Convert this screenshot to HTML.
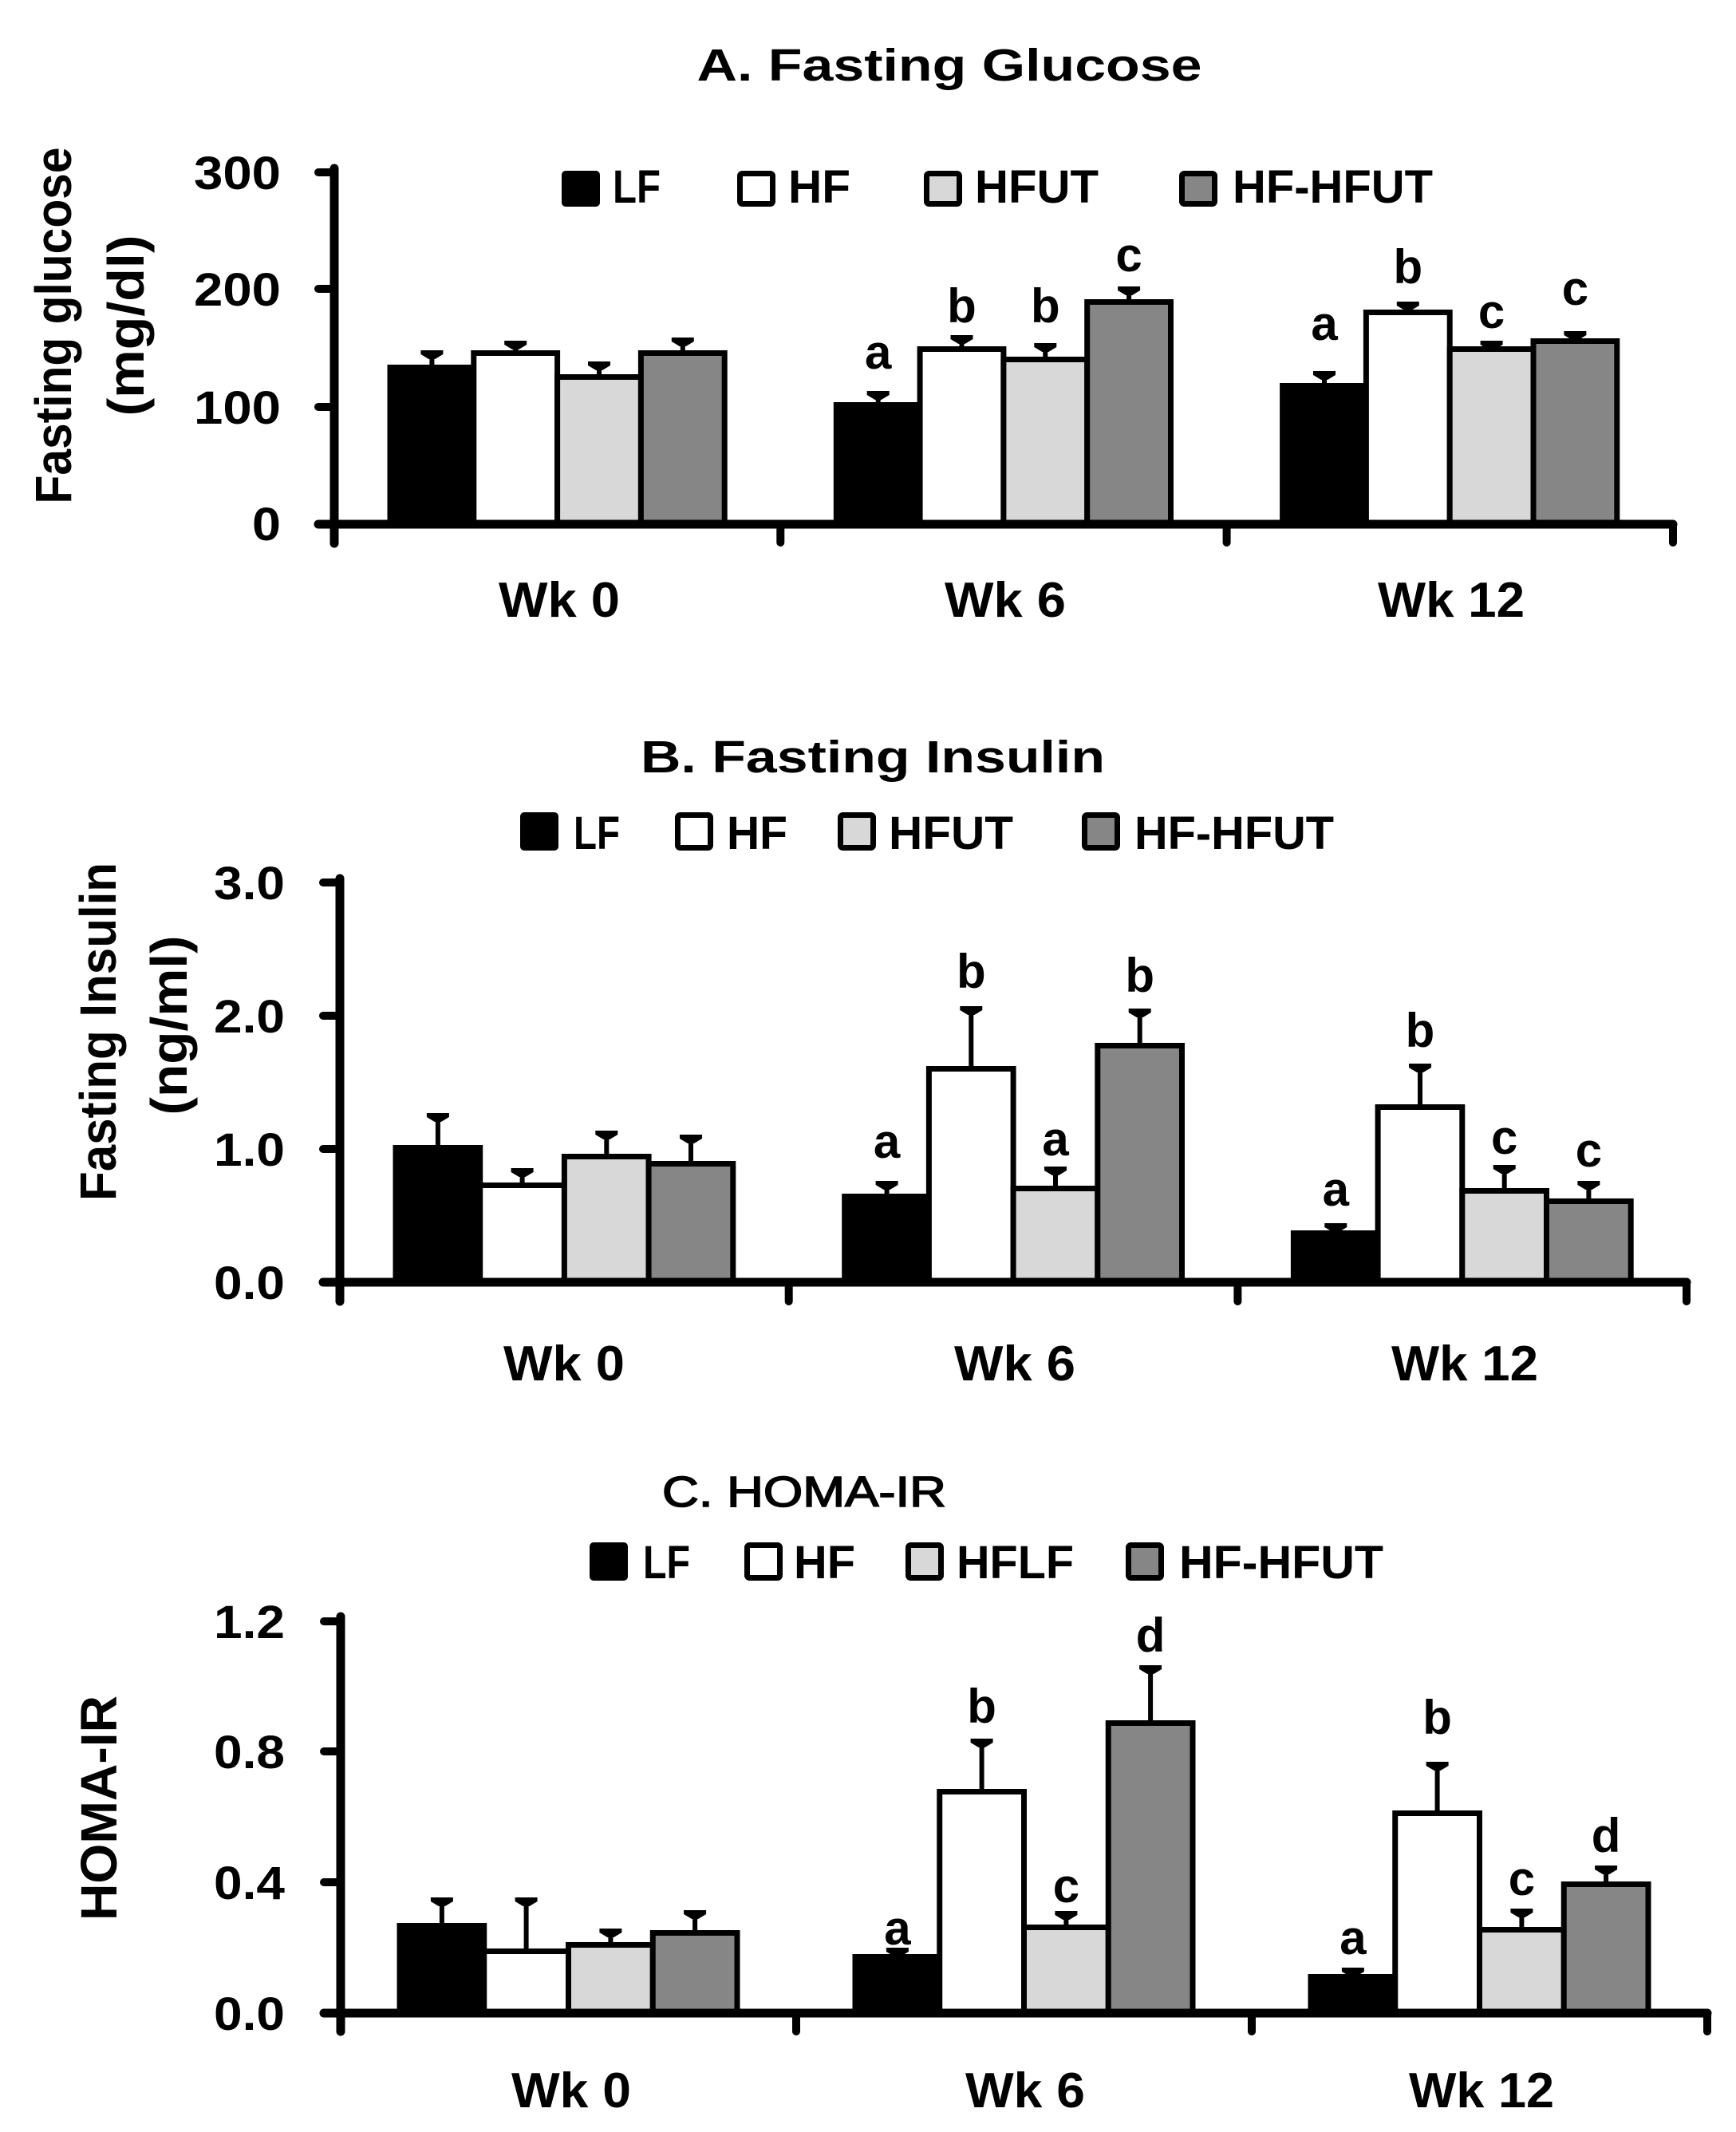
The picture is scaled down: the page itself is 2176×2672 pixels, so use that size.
<!DOCTYPE html>
<html><head><meta charset="utf-8"><style>
html,body{margin:0;padding:0;background:#fff;}
svg{display:block;}
text{font-family:"Liberation Sans",Arial,sans-serif;font-weight:bold;fill:#000;}
.lf{fill:#000;stroke:#000;stroke-width:7;}
.hf{fill:#fff;stroke:#000;stroke-width:7;}
.hu{fill:#d8d8d8;stroke:#000;stroke-width:7;}
.hh{fill:#868686;stroke:#000;stroke-width:7;}
.ax{stroke:#000;stroke-width:11;stroke-linecap:round;fill:none;}
.tk{stroke:#000;stroke-width:10;stroke-linecap:round;fill:none;}
.eb{stroke:#000;stroke-width:6;}
</style></head><body>
<svg width="2176" height="2672" viewBox="0 0 2176 2672" xmlns="http://www.w3.org/2000/svg">
<defs>
<path id="cap" d="M-14,0 H14 V5 L4,11 H-4 L-14,5 Z" fill="#000"/>
</defs>
<rect width="2176" height="2672" fill="#fff"/>

<!-- ============ PANEL A ============ -->
<text x="1190" y="101" font-size="57" text-anchor="middle" textLength="633" lengthAdjust="spacingAndGlyphs">A. Fasting Glucose</text>
<rect x="704" y="214" width="48" height="45" rx="5" fill="#000"/>
<text x="768" y="254" font-size="58" textLength="60" lengthAdjust="spacingAndGlyphs">LF</text>
<rect x="927.5" y="217.5" width="41" height="38" rx="3" class="hf"/>
<text x="988" y="254" font-size="58" textLength="78" lengthAdjust="spacingAndGlyphs">HF</text>
<rect x="1161.5" y="217.5" width="41" height="38" rx="3" class="hu"/>
<text x="1222" y="254" font-size="58" textLength="155" lengthAdjust="spacingAndGlyphs">HFUT</text>
<rect x="1481.5" y="217.5" width="41" height="38" rx="3" class="hh"/>
<text x="1545" y="254" font-size="58" textLength="251" lengthAdjust="spacingAndGlyphs">HF-HFUT</text>
<text transform="translate(89,408) rotate(-90)" font-size="64" text-anchor="middle" textLength="447" lengthAdjust="spacingAndGlyphs">Fasting glucose</text>
<text transform="translate(180,408) rotate(-90)" font-size="64" text-anchor="middle" textLength="227" lengthAdjust="spacingAndGlyphs">(mg/dl)</text>
<text x="352" y="237" font-size="58" text-anchor="end" textLength="109" lengthAdjust="spacingAndGlyphs">300</text>
<text x="352" y="383" font-size="58" text-anchor="end" textLength="109" lengthAdjust="spacingAndGlyphs">200</text>
<text x="352" y="531" font-size="58" text-anchor="end" textLength="109" lengthAdjust="spacingAndGlyphs">100</text>
<text x="352" y="677" font-size="58" text-anchor="end" textLength="36" lengthAdjust="spacingAndGlyphs">0</text>
<rect x="489" y="460.5" width="104.8" height="196.5" class="lf"/>
<rect x="593.8" y="442.5" width="104.8" height="214.5" class="hf"/>
<rect x="698.6" y="472.5" width="104.8" height="184.5" class="hu"/>
<rect x="803.4" y="442.5" width="104.8" height="214.5" class="hh"/>
<rect x="1048.3" y="507.5" width="104.8" height="149.5" class="lf"/>
<rect x="1153.1" y="437.5" width="104.8" height="219.5" class="hf"/>
<rect x="1257.9" y="450.5" width="104.8" height="206.5" class="hu"/>
<rect x="1362.7" y="378.5" width="104.8" height="278.5" class="hh"/>
<rect x="1607.6" y="483.5" width="104.8" height="173.5" class="lf"/>
<rect x="1712.4" y="391.5" width="104.8" height="265.5" class="hf"/>
<rect x="1817.2" y="437.5" width="104.8" height="219.5" class="hu"/>
<rect x="1922" y="427.5" width="104.8" height="229.5" class="hh"/>
<g class="eb">
<line x1="541.4" y1="439" x2="541.4" y2="457"/><line x1="646.2" y1="427" x2="646.2" y2="439"/>
<line x1="751" y1="453" x2="751" y2="469"/><line x1="855.8" y1="423" x2="855.8" y2="439"/>
<line x1="1100.7" y1="490" x2="1100.7" y2="504"/><line x1="1205.5" y1="420" x2="1205.5" y2="434"/>
<line x1="1310.3" y1="430" x2="1310.3" y2="447"/><line x1="1415.1" y1="359" x2="1415.1" y2="375"/>
<line x1="1660" y1="465" x2="1660" y2="480"/><line x1="1764.8" y1="378" x2="1764.8" y2="388"/>
<line x1="1869.6" y1="427" x2="1869.6" y2="434"/><line x1="1974.4" y1="415" x2="1974.4" y2="424"/>
</g>
<use href="#cap" x="541.4" y="439"/><use href="#cap" x="646.2" y="427"/><use href="#cap" x="751" y="453"/><use href="#cap" x="855.8" y="423"/>
<use href="#cap" x="1100.7" y="490"/><use href="#cap" x="1205.5" y="420"/><use href="#cap" x="1310.3" y="430"/><use href="#cap" x="1415.1" y="359"/>
<use href="#cap" x="1660" y="465"/><use href="#cap" x="1764.8" y="378"/><use href="#cap" x="1869.6" y="427"/><use href="#cap" x="1974.4" y="415"/>
<g font-size="60" text-anchor="middle">
<text x="1100.7" y="462">a</text><text x="1205.5" y="404">b</text><text x="1310.3" y="404">b</text><text x="1415.1" y="340">c</text>
<text x="1660" y="426">a</text><text x="1764.8" y="355">b</text><text x="1869.6" y="411">c</text><text x="1974.4" y="382">c</text>
</g>
<line class="ax" x1="419" y1="211" x2="419" y2="681"/>
<line class="ax" x1="399" y1="657" x2="2097" y2="657"/>
<line class="tk" x1="399" y1="216" x2="419" y2="216"/>
<line class="tk" x1="399" y1="362" x2="419" y2="362"/>
<line class="tk" x1="399" y1="510" x2="419" y2="510"/>
<line class="tk" x1="978.3" y1="657" x2="978.3" y2="680"/>
<line class="tk" x1="1537.6" y1="657" x2="1537.6" y2="680"/>
<line class="tk" x1="2097" y1="657" x2="2097" y2="680"/>
<text x="701" y="773" font-size="62" text-anchor="middle" textLength="152" lengthAdjust="spacingAndGlyphs">Wk 0</text>
<text x="1260" y="773" font-size="62" text-anchor="middle" textLength="152" lengthAdjust="spacingAndGlyphs">Wk 6</text>
<text x="1819" y="773" font-size="62" text-anchor="middle" textLength="184" lengthAdjust="spacingAndGlyphs">Wk 12</text>

<!-- ============ PANEL B ============ -->
<text x="1094" y="968" font-size="57" text-anchor="middle" textLength="582" lengthAdjust="spacingAndGlyphs">B. Fasting Insulin</text>
<rect x="652" y="1018" width="48" height="48" rx="5" fill="#000"/>
<text x="719" y="1064" font-size="58" textLength="58" lengthAdjust="spacingAndGlyphs">LF</text>
<rect x="849.5" y="1021.5" width="41" height="41" rx="3" class="hf"/>
<text x="911" y="1064" font-size="58" textLength="76" lengthAdjust="spacingAndGlyphs">HF</text>
<rect x="1053.5" y="1021.5" width="41" height="41" rx="3" class="hu"/>
<text x="1114" y="1064" font-size="58" textLength="156" lengthAdjust="spacingAndGlyphs">HFUT</text>
<rect x="1359.5" y="1021.5" width="41" height="41" rx="3" class="hh"/>
<text x="1422" y="1064" font-size="58" textLength="250" lengthAdjust="spacingAndGlyphs">HF-HFUT</text>
<text transform="translate(145,1293) rotate(-90)" font-size="64" text-anchor="middle" textLength="424" lengthAdjust="spacingAndGlyphs">Fasting Insulin</text>
<text transform="translate(234,1285) rotate(-90)" font-size="64" text-anchor="middle" textLength="225" lengthAdjust="spacingAndGlyphs">(ng/ml)</text>
<text x="357" y="1127" font-size="58" text-anchor="end" textLength="89" lengthAdjust="spacingAndGlyphs">3.0</text>
<text x="357" y="1294" font-size="58" text-anchor="end" textLength="89" lengthAdjust="spacingAndGlyphs">2.0</text>
<text x="357" y="1461" font-size="58" text-anchor="end" textLength="89" lengthAdjust="spacingAndGlyphs">1.0</text>
<text x="357" y="1628" font-size="58" text-anchor="end" textLength="89" lengthAdjust="spacingAndGlyphs">0.0</text>
<rect x="496" y="1438.5" width="105.7" height="168.5" class="lf"/>
<rect x="601.7" y="1485.5" width="105.7" height="121.5" class="hf"/>
<rect x="707.4" y="1449.5" width="105.7" height="157.5" class="hu"/>
<rect x="813.1" y="1458.5" width="105.7" height="148.5" class="hh"/>
<rect x="1058.7" y="1499.5" width="105.7" height="107.5" class="lf"/>
<rect x="1164.4" y="1339.5" width="105.7" height="267.5" class="hf"/>
<rect x="1270.1" y="1489.5" width="105.7" height="117.5" class="hu"/>
<rect x="1375.8" y="1310.5" width="105.7" height="296.5" class="hh"/>
<rect x="1621.4" y="1545.5" width="105.7" height="61.5" class="lf"/>
<rect x="1727.1" y="1387.5" width="105.7" height="219.5" class="hf"/>
<rect x="1832.8" y="1492.5" width="105.7" height="114.5" class="hu"/>
<rect x="1938.5" y="1505.5" width="105.7" height="101.5" class="hh"/>
<g class="eb">
<line x1="548.9" y1="1395" x2="548.9" y2="1435"/><line x1="654.6" y1="1464" x2="654.6" y2="1482"/>
<line x1="760.3" y1="1417" x2="760.3" y2="1446"/><line x1="866" y1="1422" x2="866" y2="1455"/>
<line x1="1111.6" y1="1480" x2="1111.6" y2="1496"/><line x1="1217.3" y1="1261" x2="1217.3" y2="1336"/>
<line x1="1323" y1="1462" x2="1323" y2="1486"/><line x1="1428.7" y1="1264" x2="1428.7" y2="1307"/>
<line x1="1674.3" y1="1533" x2="1674.3" y2="1542"/><line x1="1780" y1="1333" x2="1780" y2="1384"/>
<line x1="1885.7" y1="1460" x2="1885.7" y2="1489"/><line x1="1991.4" y1="1480" x2="1991.4" y2="1502"/>
</g>
<use href="#cap" x="548.9" y="1395"/><use href="#cap" x="654.6" y="1464"/><use href="#cap" x="760.3" y="1417"/><use href="#cap" x="866" y="1422"/>
<use href="#cap" x="1111.6" y="1480"/><use href="#cap" x="1217.3" y="1261"/><use href="#cap" x="1323" y="1462"/><use href="#cap" x="1428.7" y="1264"/>
<use href="#cap" x="1674.3" y="1533"/><use href="#cap" x="1780" y="1333"/><use href="#cap" x="1885.7" y="1460"/><use href="#cap" x="1991.4" y="1480"/>
<g font-size="60" text-anchor="middle">
<text x="1111.6" y="1451">a</text><text x="1217.3" y="1238">b</text><text x="1323" y="1448">a</text><text x="1428.7" y="1243">b</text>
<text x="1674.3" y="1511">a</text><text x="1780" y="1312">b</text><text x="1885.7" y="1446">c</text><text x="1991.4" y="1462">c</text>
</g>
<line class="ax" x1="426" y1="1101" x2="426" y2="1631"/>
<line class="ax" x1="405" y1="1607" x2="2114" y2="1607"/>
<line class="tk" x1="405" y1="1106" x2="426" y2="1106"/>
<line class="tk" x1="405" y1="1273" x2="426" y2="1273"/>
<line class="tk" x1="405" y1="1440" x2="426" y2="1440"/>
<line class="tk" x1="988.7" y1="1607" x2="988.7" y2="1631"/>
<line class="tk" x1="1551.4" y1="1607" x2="1551.4" y2="1631"/>
<line class="tk" x1="2114" y1="1607" x2="2114" y2="1631"/>
<text x="707" y="1730" font-size="62" text-anchor="middle" textLength="152" lengthAdjust="spacingAndGlyphs">Wk 0</text>
<text x="1272" y="1730" font-size="62" text-anchor="middle" textLength="152" lengthAdjust="spacingAndGlyphs">Wk 6</text>
<text x="1836" y="1730" font-size="62" text-anchor="middle" textLength="184" lengthAdjust="spacingAndGlyphs">Wk 12</text>

<!-- ============ PANEL C ============ -->
<text x="1008" y="1888" font-size="54" style="font-weight:normal" stroke="#000" stroke-width="1.6" text-anchor="middle" textLength="356" lengthAdjust="spacingAndGlyphs">C. HOMA-IR</text>
<rect x="739" y="1933" width="48" height="48" rx="5" fill="#000"/>
<text x="806" y="1978" font-size="58" textLength="59" lengthAdjust="spacingAndGlyphs">LF</text>
<rect x="936.5" y="1936.5" width="41" height="41" rx="3" class="hf"/>
<text x="995" y="1978" font-size="58" textLength="77" lengthAdjust="spacingAndGlyphs">HF</text>
<rect x="1138.5" y="1936.5" width="41" height="41" rx="3" class="hu"/>
<text x="1199" y="1978" font-size="58" textLength="147" lengthAdjust="spacingAndGlyphs">HFLF</text>
<rect x="1414.5" y="1936.5" width="41" height="41" rx="3" class="hh"/>
<text x="1478" y="1978" font-size="58" textLength="256" lengthAdjust="spacingAndGlyphs">HF-HFUT</text>
<text transform="translate(146,2266) rotate(-90)" font-size="64" text-anchor="middle" textLength="282" lengthAdjust="spacingAndGlyphs">HOMA-IR</text>
<text x="357" y="2053" font-size="58" text-anchor="end" textLength="89" lengthAdjust="spacingAndGlyphs">1.2</text>
<text x="357" y="2216" font-size="58" text-anchor="end" textLength="89" lengthAdjust="spacingAndGlyphs">0.8</text>
<text x="357" y="2380" font-size="58" text-anchor="end" textLength="89" lengthAdjust="spacingAndGlyphs">0.4</text>
<text x="357" y="2544" font-size="58" text-anchor="end" textLength="89" lengthAdjust="spacingAndGlyphs">0.0</text>
<rect x="501" y="2413.5" width="105.75" height="109.5" class="lf"/>
<rect x="606.75" y="2445.5" width="105.75" height="77.5" class="hf"/>
<rect x="712.5" y="2437.5" width="105.75" height="85.5" class="hu"/>
<rect x="818.25" y="2422.5" width="105.75" height="100.5" class="hh"/>
<rect x="1072" y="2452.5" width="105.75" height="70.5" class="lf"/>
<rect x="1177.75" y="2245.5" width="105.75" height="277.5" class="hf"/>
<rect x="1283.5" y="2415.5" width="105.75" height="107.5" class="hu"/>
<rect x="1389.25" y="2159.5" width="105.75" height="363.5" class="hh"/>
<rect x="1643" y="2477.5" width="105.75" height="45.5" class="lf"/>
<rect x="1748.75" y="2272.5" width="105.75" height="250.5" class="hf"/>
<rect x="1854.5" y="2418.5" width="105.75" height="104.5" class="hu"/>
<rect x="1960.25" y="2361.5" width="105.75" height="161.5" class="hh"/>
<g class="eb">
<line x1="553.9" y1="2378" x2="553.9" y2="2410"/><line x1="659.6" y1="2378" x2="659.6" y2="2442"/>
<line x1="765.4" y1="2417" x2="765.4" y2="2434"/><line x1="871.1" y1="2394" x2="871.1" y2="2419"/>
<line x1="1124.9" y1="2441" x2="1124.9" y2="2449"/><line x1="1230.6" y1="2179" x2="1230.6" y2="2242"/>
<line x1="1336.4" y1="2395" x2="1336.4" y2="2412"/><line x1="1442.1" y1="2087" x2="1442.1" y2="2156"/>
<line x1="1695.9" y1="2466" x2="1695.9" y2="2474"/><line x1="1801.6" y1="2208" x2="1801.6" y2="2269"/>
<line x1="1907.4" y1="2392" x2="1907.4" y2="2415"/><line x1="2013.1" y1="2338" x2="2013.1" y2="2358"/>
</g>
<use href="#cap" x="553.9" y="2378"/><use href="#cap" x="659.6" y="2378"/><use href="#cap" x="765.4" y="2417"/><use href="#cap" x="871.1" y="2394"/>
<use href="#cap" x="1124.9" y="2441"/><use href="#cap" x="1230.6" y="2179"/><use href="#cap" x="1336.4" y="2395"/><use href="#cap" x="1442.1" y="2087"/>
<use href="#cap" x="1695.9" y="2466"/><use href="#cap" x="1801.6" y="2208"/><use href="#cap" x="1907.4" y="2392"/><use href="#cap" x="2013.1" y="2338"/>
<g font-size="60" text-anchor="middle">
<text x="1124.9" y="2437">a</text><text x="1230.6" y="2159">b</text><text x="1336.4" y="2384">c</text><text x="1442.1" y="2070">d</text>
<text x="1695.9" y="2449">a</text><text x="1801.6" y="2173">b</text><text x="1907.4" y="2375">c</text><text x="2013.1" y="2321">d</text>
</g>
<line class="ax" x1="427" y1="2026" x2="427" y2="2546"/>
<line class="ax" x1="406" y1="2523" x2="2140" y2="2523"/>
<line class="tk" x1="406" y1="2032" x2="427" y2="2032"/>
<line class="tk" x1="406" y1="2195" x2="427" y2="2195"/>
<line class="tk" x1="406" y1="2359" x2="427" y2="2359"/>
<line class="tk" x1="998" y1="2523" x2="998" y2="2546"/>
<line class="tk" x1="1569" y1="2523" x2="1569" y2="2546"/>
<line class="tk" x1="2140" y1="2523" x2="2140" y2="2546"/>
<text x="716" y="2641" font-size="62" text-anchor="middle" textLength="150" lengthAdjust="spacingAndGlyphs">Wk 0</text>
<text x="1285" y="2641" font-size="62" text-anchor="middle" textLength="150" lengthAdjust="spacingAndGlyphs">Wk 6</text>
<text x="1857" y="2641" font-size="62" text-anchor="middle" textLength="182" lengthAdjust="spacingAndGlyphs">Wk 12</text>
</svg>
</body></html>
